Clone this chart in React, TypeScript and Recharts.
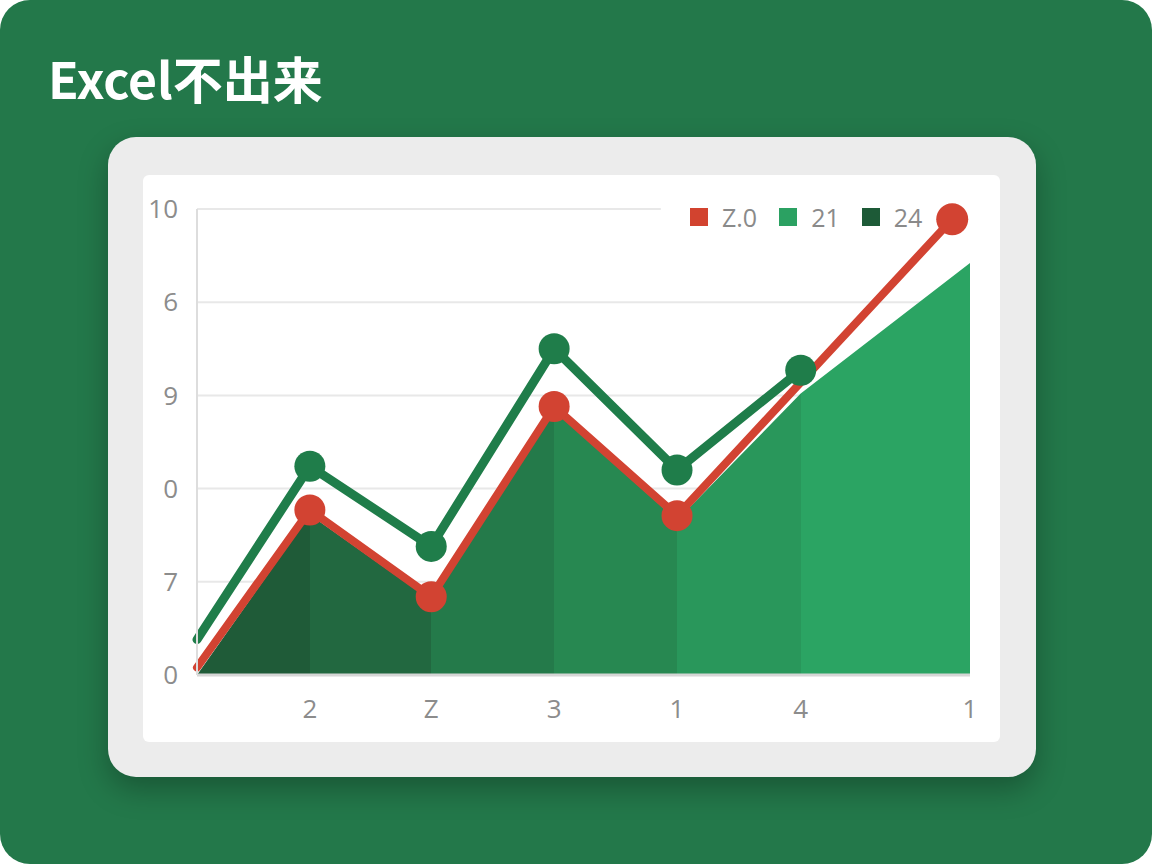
import React from "react";
import {
  Area,
  CartesianGrid,
  ComposedChart,
  Line,
  XAxis,
  YAxis,
} from "recharts";

// x positions of the points along the axis (0..100)
const xPositions = [0, 14.6, 30.3, 46.2, 62.1, 78.1, 97.7, 100];
const redValues = [0.08, 1.77, 0.84, 2.88, 1.71, null, 4.89, null];
const greenValues = [0.38, 2.24, 1.38, 3.5, 2.2, 3.27, null, null];
const areaValues = [0, 1.72, 0.8, 2.84, 1.66, 3.02, null, 4.42];

const xTicks = [14.6, 30.3, 46.2, 62.1, 78.1, 100];
const xTickLabels = ["2", "Z", "3", "1", "4", "1"];
const yTicks = [0, 1, 2, 3, 4, 5];
const yTickLabels = ["0", "7", "0", "9", "6", "10"];

const legendItems = [
  { label: "Z.0", color: "#d2432f" },
  { label: "21", color: "#2ba162" },
  { label: "24", color: "#1d5a37" },
];

const bandStops = [
  { from: 0, to: 0.146, color: "#1f5b38" },
  { from: 0.146, to: 0.303, color: "#226840" },
  { from: 0.303, to: 0.462, color: "#247a4a" },
  { from: 0.462, to: 0.621, color: "#278851" },
  { from: 0.621, to: 0.781, color: "#29975b" },
  { from: 0.781, to: 1, color: "#2ba463" },
];

const chartData = xPositions.map((x, i) => ({
  x,
  red: redValues[i],
  green: greenValues[i],
  fill: areaValues[i],
}));

const RED = "#d24332";
const GREEN = "#1f7d4a";
const TICK_STYLE = { fontSize: 26, fill: "#8c8c8c", fontFamily: "'Open Sans', sans-serif" };

const makeDot = (color: string) => (props: any) => {
  const { cx, cy, index, value } = props;
  if (cx == null || cy == null || value == null || index === 0) {
    return <g key={`d-${color}-${index}`} />;
  }
  const r = props.payload?.x === 97.7 ? 16 : 15.5;
  return <circle key={`d-${color}-${index}`} cx={cx} cy={cy} r={r} fill={color} />;
};

const gridLine = (p: any) => {
  const isTop = Math.abs(p.y1 - 34) < 2;
  const x2 = isTop ? p.x1 + (p.x2 - p.x1) * 0.6 : p.x2;
  return (
    <line
      key={`g-${p.index}-${p.y1}`}
      x1={p.x1}
      y1={p.y1}
      x2={x2}
      y2={p.y2}
      stroke="#e8e8e8"
      strokeWidth={2}
    />
  );
};

export default function App() {
  return (
    <div
      style={{
        position: "fixed",
        left: 0,
        top: 0,
        width: 1152,
        height: 864,
        background: "#ffffff",
      }}
    >
      <div
        style={{
          position: "absolute",
          inset: 0,
          background: "#23784a",
          borderRadius: 30,
        }}
      >
        <div
          style={{
            position: "absolute",
            left: 48,
            top: 52,
            fontSize: 50,
            lineHeight: "50px",
            fontWeight: 700,
            color: "#ffffff",
            fontFamily: "'Noto Sans CJK SC', 'Noto Sans', sans-serif",
            whiteSpace: "nowrap",
          }}
        >
          Excel不出来
        </div>
        <div
          style={{
            position: "absolute",
            left: 108,
            top: 137,
            width: 928,
            height: 640,
            background: "#ececec",
            borderRadius: 28,
            boxShadow: "0 12px 30px rgba(0,0,0,0.28)",
          }}
        >
          <div
            style={{
              position: "absolute",
              left: 35,
              top: 38,
              width: 857,
              height: 567,
              background: "#ffffff",
              borderRadius: 6,
            }}
          >
            <div
              style={{
                position: "absolute",
                left: 547,
                top: 33,
                display: "flex",
                alignItems: "center",
                gap: 22,
                fontFamily: "'Open Sans', sans-serif",
                fontSize: 25,
                color: "#8a8a8a",
              }}
            >
              {legendItems.map((item) => (
                <div key={item.label} style={{ display: "flex", alignItems: "center", gap: 14 }}>
                  <span style={{ width: 18, height: 18, background: item.color, display: "inline-block" }} />
                  <span style={{ lineHeight: "18px" }}>{item.label}</span>
                </div>
              ))}
            </div>
            <div style={{ position: "relative" }}>
              <ComposedChart
                width={857}
                height={567}
                data={chartData}
                margin={{ top: 34, right: 30, bottom: 22, left: 14 }}
              >
                <defs>
                  <linearGradient id="bands" x1="0" y1="0" x2="1" y2="0">
                    {bandStops.flatMap((b) => [
                      <stop key={`${b.from}-a`} offset={b.from} stopColor={b.color} />,
                      <stop key={`${b.from}-b`} offset={b.to} stopColor={b.color} />,
                    ])}
                  </linearGradient>
                </defs>
                <CartesianGrid vertical={false} horizontal={gridLine} />
                <XAxis
                  dataKey="x"
                  type="number"
                  domain={[0, 100]}
                  ticks={xTicks}
                  interval={0}
                  tickFormatter={(v: number) => xTickLabels[xTicks.indexOf(v)] ?? ""}
                  tick={TICK_STYLE}
                  tickLine={false}
                  tickSize={0}
                  tickMargin={25}
                  height={45}
                  axisLine={{ stroke: "#d6d6d6", strokeWidth: 3 }}
                />
                <YAxis
                  type="number"
                  domain={[0, 5]}
                  ticks={yTicks}
                  interval={0}
                  tickFormatter={(v: number) => yTickLabels[v] ?? ""}
                  tick={TICK_STYLE}
                  tickLine={false}
                  tickSize={0}
                  tickMargin={19}
                  width={40}
                  axisLine={{ stroke: "#dddddd", strokeWidth: 2 }}
                />
                <Area
                  type="linear"
                  dataKey="fill"
                  stroke="none"
                  fill="url(#bands)"
                  fillOpacity={1}
                  connectNulls
                  isAnimationActive={false}
                />
                <Line
                  type="linear"
                  dataKey="red"
                  stroke={RED}
                  strokeWidth={8}
                  strokeLinejoin="round"
                  strokeLinecap="round"
                  dot={makeDot(RED)}
                  activeDot={false}
                  connectNulls
                  isAnimationActive={false}
                />
                <Line
                  type="linear"
                  dataKey="green"
                  stroke={GREEN}
                  strokeWidth={9}
                  strokeLinejoin="round"
                  strokeLinecap="round"
                  dot={makeDot(GREEN)}
                  activeDot={false}
                  connectNulls
                  isAnimationActive={false}
                />
              </ComposedChart>
            </div>
          </div>
        </div>
      </div>
    </div>
  );
}
